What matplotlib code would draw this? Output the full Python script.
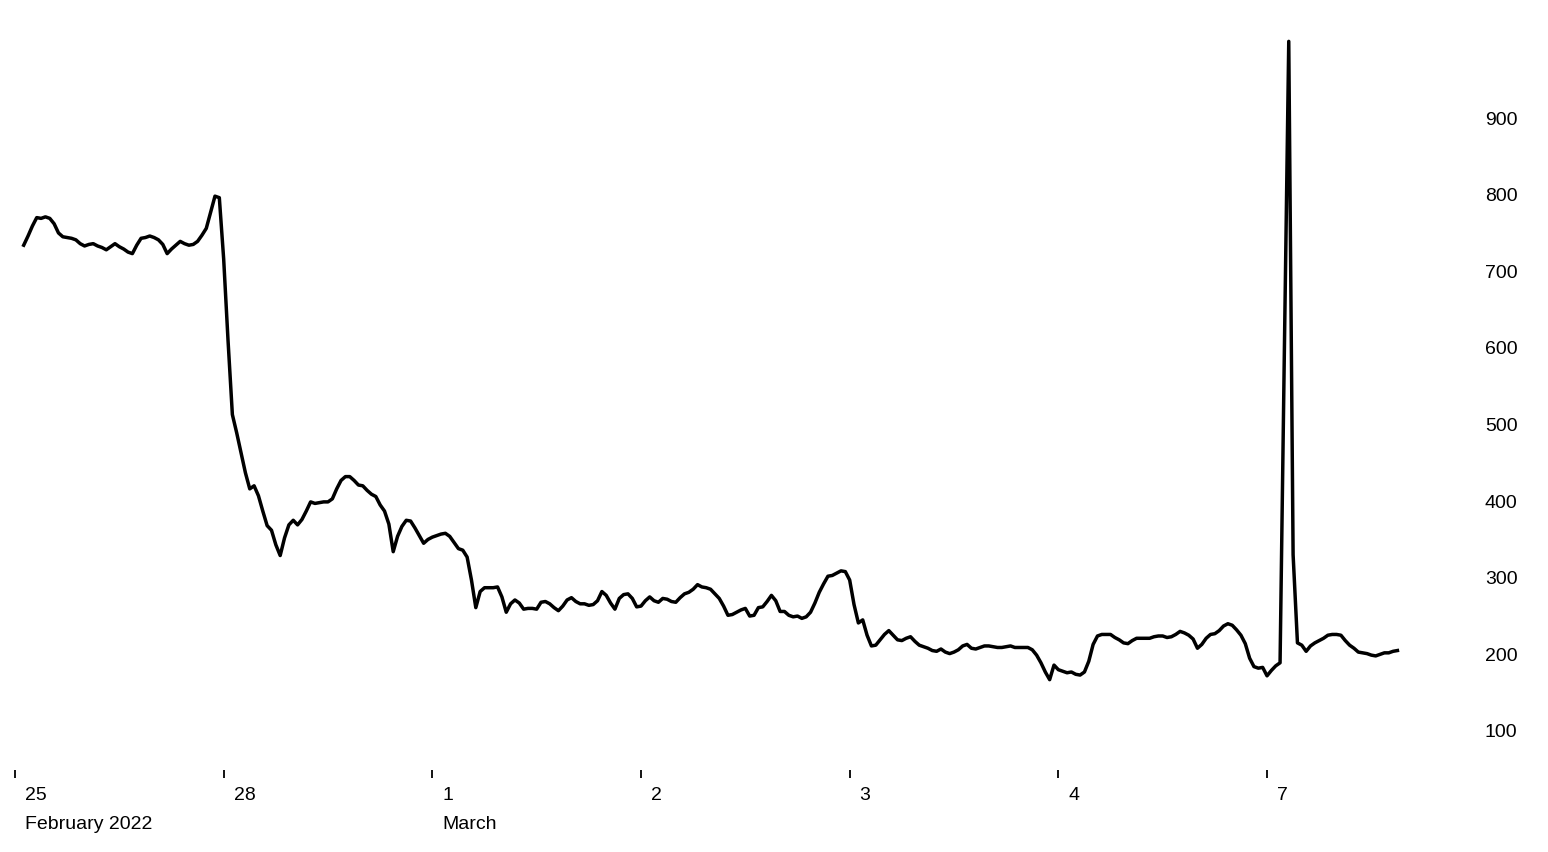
import numpy as np
import pandas as pd
import matplotlib
matplotlib.use("Agg")
import matplotlib.pyplot as plt

plt.rcParams["font.family"] = ["Liberation Sans", "DejaVu Sans"]

# ---------- data (half-hourly, trading days only) ----------
TRADING_DAYS = ["2022-02-25", "2022-02-28", "2022-03-01", "2022-03-02",
                "2022-03-03", "2022-03-04", "2022-03-07"]
DAY_LABELS = ["25", "28", "1", "2", "3", "4", "7"]
MONTH_LABELS = {0: "February 2022", 2: "March"}
Y_TICKS = [100, 200, 300, 400, 500, 600, 700, 800, 900]
START = "2022-02-25 01:00"
END = "2022-03-07 15:00"

feb25 = [734, 746, 759, 770, 769, 771, 769, 762, 750, 745,
         744, 743, 741, 736, 733, 735, 736, 733, 731, 728,
         732, 736, 732, 729, 725, 723, 734, 743, 744, 746,
         744, 741, 735, 723, 729, 734, 739, 736, 734, 735,
         739, 747, 756, 777, 798, 796]
feb28 = [716, 610, 513, 489, 463, 437, 416, 420, 407, 387,
         368, 362, 343, 329, 352, 369, 375, 369, 376, 387,
         399, 397, 398, 399, 399, 403, 416, 427, 432, 432,
         427, 421, 420, 414, 409, 406, 395, 387, 370, 334,
         354, 367, 375, 374, 365, 355, 345, 350]
mar01 = [353, 355, 357, 358, 354, 346, 338, 336, 327, 297,
         261, 282, 287, 287, 287, 288, 275, 255, 266, 271,
         267, 259, 260, 260, 259, 268, 269, 266, 261, 257,
         263, 271, 274, 269, 266, 266, 264, 265, 270, 282,
         277, 267, 259, 273, 278, 279, 273, 262]
mar02 = [263, 270, 275, 270, 268, 273, 272, 269, 268, 274,
         279, 281, 285, 291, 288, 287, 285, 279, 273, 263,
         251, 252, 255, 258, 260, 250, 251, 261, 262, 269,
         277, 270, 256, 256, 251, 249, 250, 247, 249, 255,
         267, 281, 292, 302, 303, 306, 309, 308]
mar03 = [297, 265, 241, 245, 225, 211, 212, 219, 226, 231,
         225, 219, 218, 221, 223, 217, 212, 210, 208, 205,
         204, 207, 203, 201, 203, 206, 211, 213, 208, 207,
         209, 211, 211, 210, 209, 209, 210, 211, 209, 209,
         209, 209, 206, 199, 189, 177, 167, 186]
mar04 = [180, 178, 176, 177, 174, 173, 177, 191, 213, 224,
         226, 226, 226, 222, 219, 215, 214, 218, 221, 221,
         221, 221, 223, 224, 224, 222, 223, 226, 230, 228,
         225, 220, 208, 213, 221, 226, 227, 231, 237, 240,
         238, 232, 225, 214, 195, 184, 182, 183]
mar07 = [172, 179, 185, 189, 600, 1000, 330, 215, 212, 204,
         211, 215, 218, 221, 225, 226, 226, 225, 218, 212,
         208, 203, 202, 201, 199, 198, 200, 202, 202, 204,
         205]

values = np.array(feb25 + feb28 + mar01 + mar02 + mar03 + mar04 + mar07)
stamps = pd.date_range(START, END, freq="30min")
stamps = stamps[stamps.dayofweek < 5]

# weekends are skipped: x = trading-day index + fraction of day
day_index = {pd.Timestamp(d).date(): i for i, d in enumerate(TRADING_DAYS)}
xpos = np.array([day_index[t.date()] + (t.hour + t.minute / 60) / 24 for t in stamps])

# ---------- figure ----------
W, H = 1548, 852
px_day = 208.67
fig = plt.figure(figsize=(W / 100, H / 100), dpi=100)
ax = fig.add_axes([15 / W, (H - 770) / H, 7 * px_day / W, 770 / H])

ax.plot(xpos, values, color="black", lw=2.5)

ax.set_xlim(0, 7)
ax.set_ylim(49.1, 1054)
for s in ax.spines.values():
    s.set_visible(False)

ax.yaxis.tick_right()
ax.set_yticks(Y_TICKS)
ax.tick_params(axis="y", length=0, pad=6.7, labelsize=14)

ax.set_xticks(range(len(TRADING_DAYS)))
ax.set_xticklabels([])
ax.tick_params(axis="x", direction="out", length=5.5, width=1.3, color="black")

for i, lab in enumerate(DAY_LABELS):
    ax.annotate(lab, xy=(i, 0), xycoords=("data", "axes fraction"),
                xytext=(7.2, -18), textcoords="offset points",
                ha="left", va="center", fontsize=14)
for i, lab in MONTH_LABELS.items():
    ax.annotate(lab, xy=(i, 0), xycoords=("data", "axes fraction"),
                xytext=(7.2, -39), textcoords="offset points",
                ha="left", va="center", fontsize=14)

fig.savefig("out.png", dpi=100, facecolor="white")
